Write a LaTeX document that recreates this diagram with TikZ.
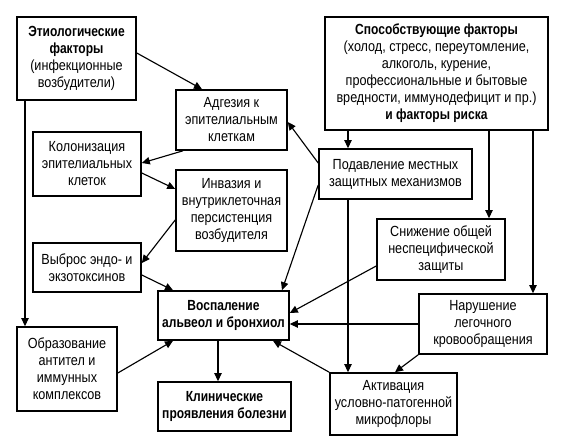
\documentclass[tikz,border=0pt]{standalone}
\usepackage{fontspec}
\setmainfont{Liberation Sans}[FakeStretch=0.86, BoldFeatures={FakeStretch=0.82}]
\usetikzlibrary{arrows.meta}

\begin{document}
\begin{tikzpicture}[x=0.75pt, y=-0.75pt,
        box/.style={draw, line width=1.2pt, align=center, inner sep=0pt, font=\fontsize{11}{12.75}\selectfont},
        sz/.style 2 args={minimum width=#1*0.75pt, minimum height=#2*0.75pt},
        arr/.style={line width=0.85pt, -{Triangle[length=6pt,width=5.5pt]}}]
            \useasboundingbox (0,0) rectangle (564,442);
            \node[box, sz={119}{83}] (etio) at (76.5,58.5) {\textbf{Этиологические}\\\textbf{факторы}\\(инфекционные\\возбудители)};
            \node[box, sz={111}{60}] (adg) at (231.5,120) {Адгезия к\\эпителиальным\\клеткам};
            \node[box, sz={108}{64}] (kolon) at (87,164) {Колонизация\\эпителиальных\\клеток};
            \node[box, sz={111}{81}] (invaz) at (231.5,210.5) {Инвазия и\\внутриклеточная\\персистенция\\возбудителя};
            \node[box, sz={108}{49}] (vybros) at (87,267.5) {Выброс эндо- и\\экзотоксинов};
            \node[box, sz={131}{49}] (vospal) at (223.5,315.5) {\textbf{Воспаление}\\\textbf{альвеол и бронхиол}};
            \node[box, sz={100}{84}] (obraz) at (67,369) {Образование\\антител и\\иммунных\\комплексов};
            \node[box, sz={133}{49}] (klin) at (224.5,406.5) {\textbf{Клинические}\\\textbf{проявления болезни}};
            \node[box, sz={223}{113}] (sposob) at (436.5,73.5) {\textbf{Способствующие факторы}\\(холод, стресс, переутомление,\\алкоголь, курение,\\профессиональные и бытовые\\вредности, иммунодефицит и пр.)\\\textbf{и факторы риска}};
            \node[box, sz={153}{50}] (podavl) at (395.5,174) {Подавление местных\\защитных механизмов};
            \node[box, sz={128}{61}] (snizh) at (441,249.5) {Снижение общей\\неспецифической\\защиты};
            \node[box, sz={128}{60}] (narush) at (483,324) {Нарушение\\легочного\\кровообращения};
            \node[box, sz={127}{62}] (aktiv) at (393.5,404) {Активация\\условно-патогенной\\микрофлоры};

            \draw[arr] (etio.east |- 0,53) -- (adg.north -| 202,0);
            \draw[arr] (etio.south -| 25,0) -- (obraz.north -| 25,0);
            \draw[arr] (adg.south -| 183,0) -- (kolon.east |- 0,163);
            \draw[arr] (kolon.east |- 0,173) -- (invaz.west |- 0,189);
            \draw[arr] (invaz.west |- 0,220) -- (vybros.east |- 0,263);
            \draw[arr] (vybros.east |- 0,275) -- (vospal.north -| 173,0);
            \draw[arr] (obraz.east |- 0,373) -- (vospal.south -| 173,0);
            \draw[arr] (vospal.south -| 218,0) -- (klin.north -| 218,0);
            \draw[arr] (sposob.south -| 348,0) -- (podavl.north -| 348,0);
            \draw[arr] (sposob.south -| 489,0) -- (snizh.north -| 489,0);
            \draw[arr] (sposob.south -| 533,0) -- (narush.north -| 533,0);
            \draw[arr] (podavl.west |- 0,163) -- (adg.east |- 0,122);
            \draw[arr] (podavl.west |- 0,185) -- (vospal.north -| 282,0);
            \draw[arr] (podavl.south -| 348,0) -- (aktiv.north -| 348,0);
            \draw[arr] (snizh.west |- 0,266) -- (vospal.east |- 0,313);
            \draw[arr] (narush.west |- 0,324) -- (vospal.east |- 0,324);
            \draw[arr] (narush.south west) -- (aktiv.north -| 395,0);
            \draw[arr] (aktiv.north west) -- (vospal.south -| 273,0);
        \end{tikzpicture}
\end{document}
